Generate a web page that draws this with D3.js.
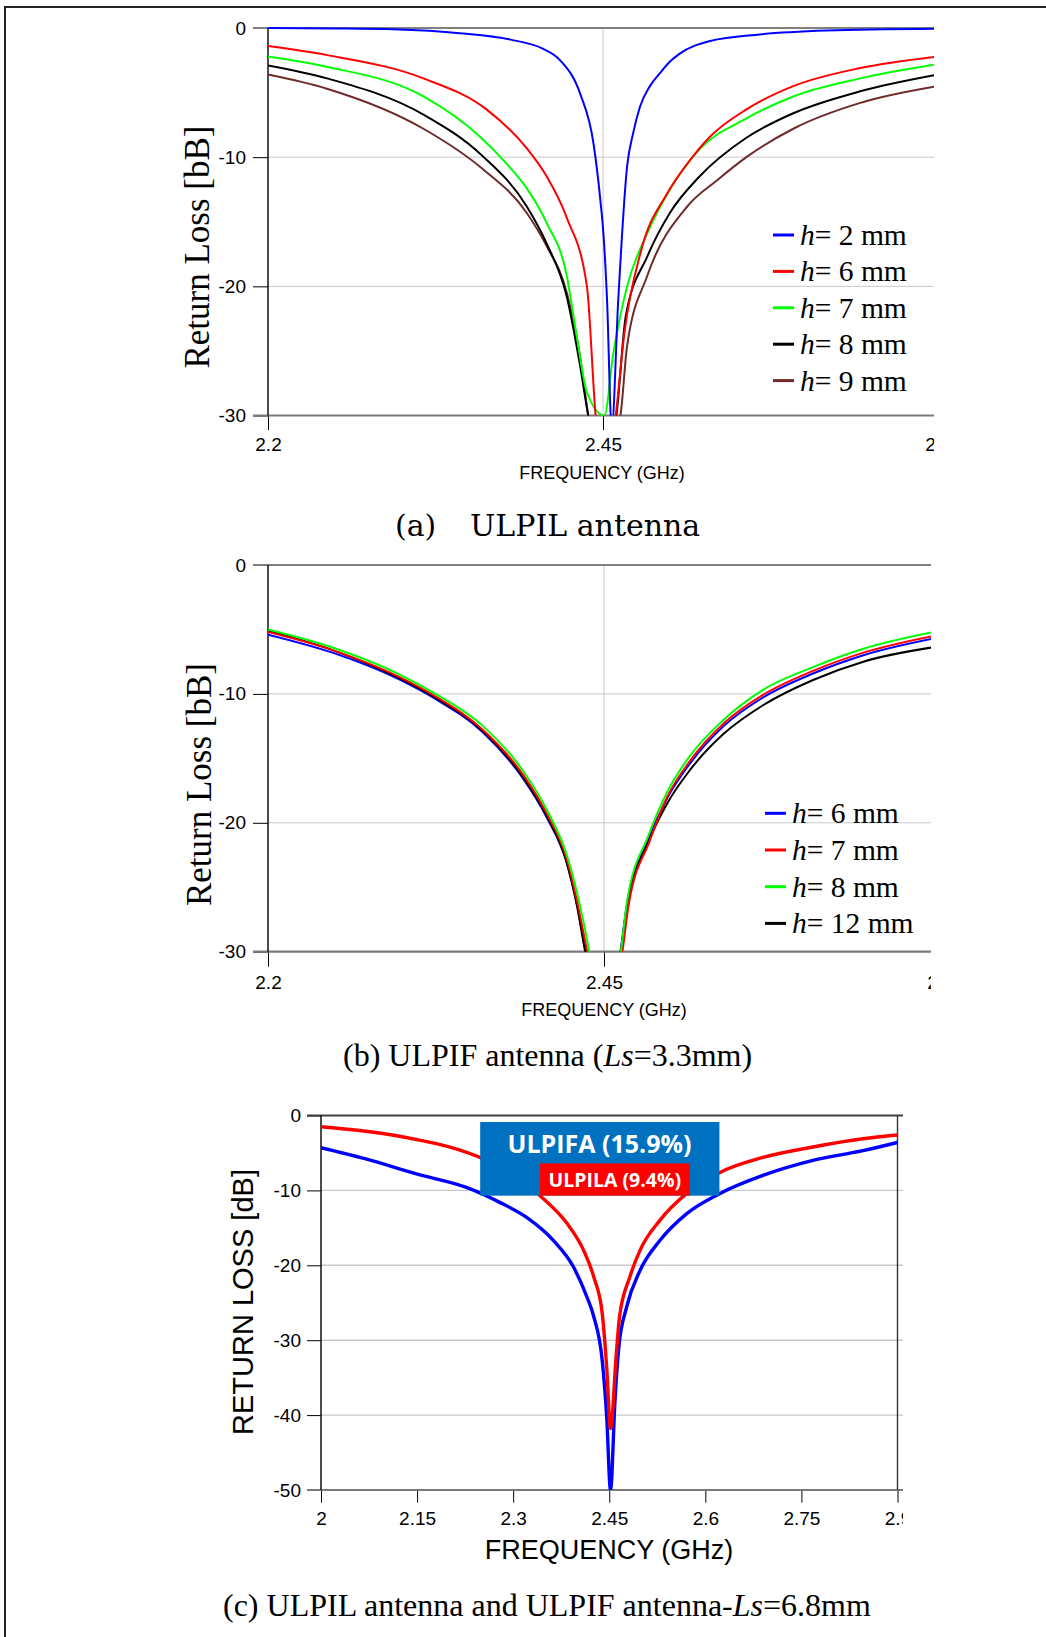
<!DOCTYPE html>
<html>
<head>
<meta charset="utf-8">
<script src="https://cdn.jsdelivr.net/npm/d3@7"></script>
<style>
body { margin: 0; background: #fff; }
</style>
</head>
<body>
<script>
// ---- (a) ULPIL antenna, sweep of h ----  [freq GHz, dB]
var a_h2 = [[2.2,0],[2.25,-0.03],[2.293,-0.1],[2.343,-0.4],[2.381,-0.9],[2.405,-1.6],[2.418,-2.5],[2.433,-5.1],[2.443,-9.0],[2.448,-13.3],[2.4503,-15.9],[2.453,-21],[2.4565,-31],[2.4614,-21],[2.468,-10.7],[2.4726,-8.1],[2.4776,-6.1],[2.485,-4.5],[2.4925,-3.5],[2.5,-2.6],[2.507,-2.0],[2.53,-1.0],[2.567,-0.5],[2.617,-0.2],[2.7,-0.05]];
var a_h6 = [[2.2,-1.4],[2.244,-2.1],[2.316,-3.9],[2.363,-6.3],[2.393,-9.3],[2.408,-11.5],[2.423,-14.7],[2.438,-20],[2.4445,-30],[2.452,-35],[2.4595,-30],[2.466,-23.6],[2.478,-17.4],[2.498,-12.8],[2.513,-10.5],[2.53,-8.4],[2.557,-6.3],[2.592,-4.5],[2.642,-3.1],[2.7,-2.2]];
var a_h7 = [[2.2,-2.2],[2.244,-3.0],[2.316,-5.3],[2.358,-8.4],[2.378,-10.5],[2.393,-12.4],[2.408,-15.1],[2.423,-19.2],[2.43,-23.6],[2.438,-28.2],[2.451,-30],[2.4577,-25.2],[2.468,-20],[2.483,-15.9],[2.5,-12.5],[2.522,-9.4],[2.557,-7.0],[2.592,-5.3],[2.642,-3.9],[2.7,-2.8]];
var a_h8 = [[2.2,-2.9],[2.244,-3.9],[2.316,-6.7],[2.36,-9.9],[2.393,-13.8],[2.408,-16.7],[2.423,-20.8],[2.433,-26.2],[2.439,-30],[2.45,-34],[2.46,-30],[2.467,-22.3],[2.483,-17.7],[2.5,-14.3],[2.522,-11.5],[2.557,-8.5],[2.592,-6.6],[2.642,-4.9],[2.7,-3.6]];
var a_h9 = [[2.2,-3.6],[2.244,-4.7],[2.316,-7.8],[2.36,-10.9],[2.393,-14.3],[2.408,-16.9],[2.423,-20.5],[2.433,-25.5],[2.439,-30],[2.45,-34],[2.463,-30],[2.468,-24.6],[2.483,-19.2],[2.513,-13.8],[2.535,-11.8],[2.557,-10.0],[2.592,-7.8],[2.642,-5.8],[2.7,-4.5]];
var a_series = [a_h2, a_h6, a_h7, a_h8, a_h9];
var a_h = ["2", "6", "7", "8", "9"];
var a_colors = ["#0000ff", "#ff0000", "#00ff00", "#000000", "#6f2a2a"];
var a_xTicks = [2.2, 2.45, 2.7];
var a_yTicks = [0, -10, -20, -30];

// ---- (b) ULPIF antenna, Ls = 3.3 mm ----
var b_h6 = [[2.2,-5.4],[2.248,-6.8],[2.298,-8.9],[2.323,-10.3],[2.36,-13.0],[2.39,-16.6],[2.408,-19.7],[2.422,-23.0],[2.43,-26.4],[2.4365,-30],[2.445,-34],[2.455,-34],[2.4622,-30],[2.467,-26.4],[2.483,-21.3],[2.497,-18.1],[2.514,-15.4],[2.539,-12.5],[2.568,-10.3],[2.606,-8.4],[2.643,-7.0],[2.7,-5.6]];
var b_h7 = [[2.2,-5.2],[2.248,-6.6],[2.298,-8.7],[2.323,-10.1],[2.36,-12.8],[2.39,-16.3],[2.408,-19.4],[2.422,-22.7],[2.43,-26.1],[2.4375,-30],[2.445,-34],[2.455,-34],[2.4637,-30],[2.468,-26.6],[2.484,-21.4],[2.497,-18.0],[2.514,-15.2],[2.539,-12.3],[2.568,-10.1],[2.606,-8.2],[2.643,-6.8],[2.7,-5.4]];
var b_h8 = [[2.2,-5.0],[2.248,-6.4],[2.298,-8.5],[2.323,-9.9],[2.36,-12.5],[2.39,-16.0],[2.408,-19.1],[2.422,-22.4],[2.431,-25.9],[2.439,-30],[2.445,-34],[2.455,-34],[2.4625,-30],[2.467,-26.2],[2.483,-21.0],[2.497,-17.6],[2.514,-14.8],[2.539,-12.0],[2.568,-9.7],[2.606,-7.9],[2.643,-6.5],[2.7,-5.1]];
var b_h12 = [[2.2,-5.1],[2.248,-6.6],[2.298,-8.8],[2.323,-10.2],[2.36,-12.9],[2.39,-16.5],[2.408,-19.6],[2.422,-23.0],[2.43,-26.5],[2.436,-30],[2.445,-34],[2.455,-34],[2.4625,-30],[2.467,-26.5],[2.483,-21.5],[2.497,-18.5],[2.514,-15.9],[2.539,-13.1],[2.568,-10.9],[2.606,-8.9],[2.643,-7.5],[2.7,-6.3]];
var b_series = [b_h6, b_h7, b_h8, b_h12];
var b_h = ["6", "7", "8", "12"];
var b_colors = ["#0000ff", "#ff0000", "#00ff00", "#000000"];
var b_xTicks = [2.2, 2.45, 2.7];
var b_yTicks = [0, -10, -20, -30];

// ---- (c) ULPIL vs ULPIF, Ls = 6.8 mm ----
var c_ulpifa = [[2.0,-4.3],[2.07,-5.8],[2.149,-7.8],[2.227,-9.6],[2.279,-11.6],[2.321,-13.6],[2.363,-16.7],[2.394,-20.2],[2.415,-24.2],[2.426,-26.9],[2.439,-32.7],[2.446,-40.2],[2.452,-50],[2.459,-38],[2.465,-30.9],[2.477,-25.6],[2.498,-20.7],[2.529,-16.7],[2.571,-13.1],[2.623,-10.4],[2.69,-8.0],[2.768,-6.0],[2.846,-4.7],[2.9,-3.6]];
var c_ulpila = [[2.0,-1.5],[2.07,-2.1],[2.149,-3.2],[2.2,-4.2],[2.248,-5.6],[2.3,-7.8],[2.342,-10.7],[2.384,-14.4],[2.41,-18],[2.426,-21.6],[2.439,-26.4],[2.446,-33.6],[2.452,-41.8],[2.461,-31.8],[2.466,-26.9],[2.482,-21.6],[2.498,-18],[2.529,-14],[2.571,-10.4],[2.623,-7.6],[2.69,-5.6],[2.768,-4.2],[2.846,-3.1],[2.9,-2.6]];
var c_series = [c_ulpifa, c_ulpila];
var c_colors = ["#0000ff", "#ff0000"];
var c_xTicks = [2, 2.15, 2.3, 2.45, 2.6, 2.75, 2.9];
var c_yTicks = [0, -10, -20, -30, -40, -50];
var c_boxText = ["ULPIFA (15.9%)", "ULPILA (9.4%)"];

var sans = "'Liberation Sans', Arial, sans-serif";
var serif = "'Liberation Serif', 'Times New Roman', serif";

var svg = d3.select("body").append("svg")
    .attr("width", 1046)
    .attr("height", 1637);

svg.append("rect").attr("width", 1046).attr("height", 1637).attr("fill", "#fff");
// page frame (left and top only)
svg.append("path")
    .attr("d", "M5,1637V7H1046")
    .attr("fill", "none")
    .attr("stroke", "#222")
    .attr("stroke-width", 2);

var defs = svg.append("defs");

function panel(p) {
    var x = d3.scaleLinear().domain(p.xDomain).range([p.left, p.right]);
    var y = d3.scaleLinear().domain(p.yDomain).range([p.top, p.bottom]);

    defs.append("clipPath").attr("id", p.id + "-view").append("rect")
        .attr("x", 0).attr("y", p.top - 25)
        .attr("width", p.viewRight).attr("height", p.bottom - p.top + 80);
    defs.append("clipPath").attr("id", p.id + "-plot").append("rect")
        .attr("x", p.left).attr("y", p.top - 3)
        .attr("width", p.viewRight - p.left).attr("height", p.bottom - p.top + 3);

    var g = svg.append("g").attr("clip-path", "url(#" + p.id + "-view)");

    // grid
    g.append("g").selectAll("line")
        .data(p.yTicks.slice(1, -1))
        .join("line")
        .attr("x1", p.left).attr("x2", p.viewRight)
        .attr("y1", d => y(d)).attr("y2", d => y(d))
        .attr("stroke", "#c8c8c8").attr("stroke-width", p.gridWidth);
    g.append("g").selectAll("line")
        .data(p.xGrid)
        .join("line")
        .attr("x1", d => x(d)).attr("x2", d => x(d))
        .attr("y1", p.top).attr("y2", p.bottom)
        .attr("stroke", "#c8c8c8");

    // y axis ticks + labels
    var ya = g.append("g")
        .attr("transform", "translate(" + p.left + ",0)")
        .call(d3.axisLeft(y).tickValues(p.yTicks).tickSize(p.yTickSize).tickPadding(p.yPad)
            .tickFormat(d => String(d)));
    ya.select(".domain").remove();
    ya.attr("font-family", sans).attr("font-size", p.tickFont);
    ya.selectAll("line").attr("stroke", "#000");
    ya.selectAll("text").attr("fill", "#000");

    // x axis ticks + labels
    var xa = g.append("g")
        .attr("transform", "translate(0," + p.bottom + ")")
        .call(d3.axisBottom(x).tickValues(p.xTicks).tickSize(p.xTickSize).tickPadding(p.xPad)
            .tickFormat(d => String(d)));
    xa.select(".domain").remove();
    xa.attr("font-family", sans).attr("font-size", p.tickFont);
    xa.selectAll("line").attr("stroke", "#000");
    xa.selectAll("text").attr("fill", "#000");

    // frame lines
    g.append("line")
        .attr("x1", p.left - p.yTickSize).attr("x2", p.viewRight)
        .attr("y1", y(p.yDomain[0])).attr("y2", y(p.yDomain[0]))
        .attr("stroke", p.topColor).attr("stroke-width", 2);
    g.append("line")
        .attr("x1", p.left - p.yTickSize).attr("x2", p.viewRight)
        .attr("y1", y(p.yDomain[1])).attr("y2", y(p.yDomain[1]))
        .attr("stroke", "#7a7a7a").attr("stroke-width", 2.2);
    g.append("line")
        .attr("x1", p.left).attr("x2", p.left)
        .attr("y1", p.top).attr("y2", p.bottom)
        .attr("stroke", "#000").attr("stroke-width", 1.4);
    if (p.rightBorder) {
        g.append("line")
            .attr("x1", p.right).attr("x2", p.right)
            .attr("y1", p.top).attr("y2", p.bottom)
            .attr("stroke", "#333").attr("stroke-width", 1.4);
    }

    // curves
    var line = d3.line()
        .x(d => x(d[0]))
        .y(d => y(d[1]))
        .curve(d3.curveMonotoneX);
    g.append("g")
        .attr("clip-path", "url(#" + p.id + "-plot)")
        .selectAll("path")
        .data(p.order)
        .join("path")
        .attr("d", i => line(p.series[i]))
        .attr("fill", "none")
        .attr("stroke", i => p.colors[i])
        .attr("stroke-width", p.lineWidth)
        .attr("stroke-linejoin", "round");

    // axis titles
    svg.append("text")
        .attr("transform", "translate(" + p.yTitleX + "," + p.yTitleY + ") rotate(-90)")
        .attr("text-anchor", "middle")
        .attr("font-family", p.yTitleFamily)
        .attr("font-size", p.yTitleSize)
        .attr("fill", "#000")
        .text(p.yTitle);
    svg.append("text")
        .attr("x", p.xTitleX).attr("y", p.xTitleY)
        .attr("text-anchor", "middle")
        .attr("font-family", sans)
        .attr("font-size", p.xTitleSize)
        .attr("fill", "#000")
        .text("FREQUENCY (GHz)");

    return {x: x, y: y};
}

function legend(names, colors, lx, ty, step) {
    var lg = svg.append("g");
    names.forEach(function(n, i) {
        var by = ty + i * step;
        lg.append("line")
            .attr("x1", lx).attr("x2", lx + 21)
            .attr("y1", by - 10).attr("y2", by - 10)
            .attr("stroke", colors[i]).attr("stroke-width", 3);
        var t = lg.append("text")
            .attr("x", lx + 27).attr("y", by)
            .attr("font-family", serif)
            .attr("font-size", 29.5)
            .attr("fill", "#000");
        t.append("tspan").attr("font-style", "italic").text("h");
        t.append("tspan").text("= " + n + " mm");
    });
}

// (a)
panel({
    id: "pa", series: a_series, colors: a_colors, order: [4, 3, 2, 1, 0],
    xDomain: [2.2, 2.7], yDomain: [0, -30], xTicks: a_xTicks, yTicks: a_yTicks, xGrid: [2.45],
    left: 268, right: 938, top: 28, bottom: 415.5, viewRight: 934,
    yTickSize: 15, yPad: 7, xTickSize: 14.5, xPad: 7.5, tickFont: 19,
    gridWidth: 1, lineWidth: 2, topColor: "#808080", rightBorder: false,
    yTitle: "Return Loss [bB]", yTitleFamily: serif, yTitleSize: 35, yTitleX: 209, yTitleY: 247,
    xTitleX: 602, xTitleY: 478.5, xTitleSize: 18
});
legend(a_h, a_colors, 773, 245, 36.4);
svg.append("text").attr("x", 395).attr("y", 536)
    .attr("font-family", "'DejaVu Serif', serif").attr("font-size", 30).attr("fill", "#000").text("(a)");
svg.append("text").attr("x", 470).attr("y", 536)
    .attr("font-family", "'DejaVu Serif', serif").attr("font-size", 30).attr("fill", "#000").text("ULPIL antenna");

// (b)
panel({
    id: "pb", series: b_series, colors: b_colors, order: [0, 3, 1, 2],
    xDomain: [2.2, 2.7], yDomain: [0, -30], xTicks: b_xTicks, yTicks: b_yTicks, xGrid: [2.45],
    left: 268, right: 940, top: 565, bottom: 951.7, viewRight: 931,
    yTickSize: 15, yPad: 7, xTickSize: 15, xPad: 8.5, tickFont: 19,
    gridWidth: 1, lineWidth: 2, topColor: "#808080", rightBorder: false,
    yTitle: "Return Loss [bB]", yTitleFamily: serif, yTitleSize: 35, yTitleX: 211, yTitleY: 784.5,
    xTitleX: 604, xTitleY: 1016, xTitleSize: 18
});
legend(b_h, b_colors, 765, 823.3, 36.7);
var capB = svg.append("text").attr("x", 343).attr("y", 1066)
    .attr("font-family", serif).attr("font-size", 32).attr("fill", "#000");
capB.append("tspan").text("(b) ULPIF antenna (");
capB.append("tspan").attr("font-style", "italic").text("Ls");
capB.append("tspan").text("=3.3mm)");

// (c)
var sc = panel({
    id: "pc", series: c_series, colors: c_colors, order: [0, 1],
    xDomain: [2.0, 2.9], yDomain: [0, -50], xTicks: c_xTicks, yTicks: c_yTicks, xGrid: [],
    left: 321, right: 897.5, top: 1115.5, bottom: 1490, viewRight: 903,
    yTickSize: 14, yPad: 6, xTickSize: 12.7, xPad: 9, tickFont: 19,
    gridWidth: 1.4, lineWidth: 3.4, topColor: "#404040", rightBorder: true,
    yTitle: "RETURN LOSS [dB]", yTitleFamily: sans, yTitleSize: 29, yTitleX: 253, yTitleY: 1302,
    xTitleX: 609, xTitleY: 1559, xTitleSize: 27
});

// bandwidth annotation boxes
svg.append("rect")
    .attr("x", sc.x(2.2485)).attr("y", sc.y(-0.87))
    .attr("width", sc.x(2.622) - sc.x(2.2485)).attr("height", sc.y(-10.7) - sc.y(-0.87))
    .attr("fill", "#0070c0");
svg.append("rect")
    .attr("x", sc.x(2.342)).attr("y", sc.y(-6.4))
    .attr("width", sc.x(2.576) - sc.x(2.342)).attr("height", sc.y(-10.7) - sc.y(-6.4))
    .attr("fill", "#ff0000");
svg.append("text")
    .attr("x", 599.5).attr("y", 1153.3)
    .attr("text-anchor", "middle")
    .attr("font-family", "'Open Sans', sans-serif").attr("font-weight", "bold")
    .attr("font-size", 25).attr("fill", "#fff")
    .text(c_boxText[0]);
svg.append("text")
    .attr("x", 614.8).attr("y", 1187.3)
    .attr("text-anchor", "middle")
    .attr("font-family", "'Open Sans', sans-serif").attr("font-weight", "bold")
    .attr("font-size", 19.5).attr("fill", "#fff")
    .text(c_boxText[1]);

var capC = svg.append("text").attr("x", 223).attr("y", 1616)
    .attr("font-family", serif).attr("font-size", 32).attr("fill", "#000");
capC.append("tspan").text("(c) ULPIL antenna and ULPIF antenna-");
capC.append("tspan").attr("font-style", "italic").text("Ls");
capC.append("tspan").text("=6.8mm");
</script>
</body>
</html>
